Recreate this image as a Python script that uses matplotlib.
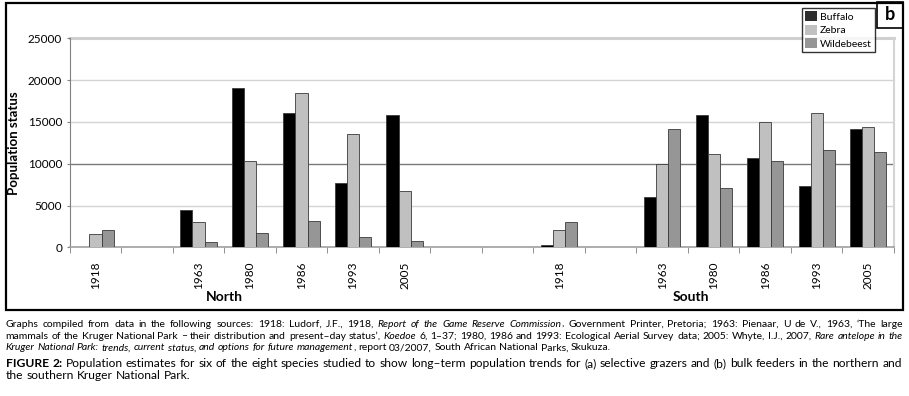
import matplotlib
matplotlib.use("Agg")
import matplotlib.pyplot as plt
import numpy as np
from matplotlib.patches import Rectangle

nan = np.nan

years = ['1918', '', '1963', '1980', '1986', '1993', '2005', '', '',
         '1918', '', '1963', '1980', '1986', '1993', '2005']
buffalo = [nan, nan, 4500, 19100, 16050, 7700, 15800, nan, nan,
           300, nan, 6050, 15800, 10650, 7350, 14150]
zebra = [1550, nan, 3050, 10300, 18400, 13500, 6750, nan, nan,
         2050, nan, 10000, 11200, 14950, 16050, 14400]
wildebeest = [2050, nan, 650, 1750, 3150, 1250, 750, nan, nan,
              3050, nan, 14150, 7100, 10300, 11650, 11350]
series = ['Buffalo', 'Zebra', 'Wildebeest']
colors = ['#000000', '#c0c0c0', '#969696']
regions = [('North', 2.5), ('South', 11.55)]

W, H = 909, 396
plt.rcParams['font.family'] = ['Lato', 'DejaVu Sans']
CAPTION_FONT = ['Liberation Sans Narrow', 'Lato', 'DejaVu Sans']

fig = plt.figure(figsize=(W / 100, H / 100), dpi=100)

def fx(px):
    return px / W

def fy(py):
    return 1 - py / H

ax = fig.add_axes([fx(69.7), fy(247.3), fx(894) - fx(69.7), fy(38.3) - fy(247.3)])

x = np.arange(len(years))
width = 0.235
for i, (name, vals, c) in enumerate(zip(series, [buffalo, zebra, wildebeest], colors)):
    ax.bar(x + (i - 1) * width, vals, width, color=c, edgecolor='#3a3a3a',
           linewidth=0.6, label=name, zorder=3)

ax.set_xlim(-0.5, len(years) - 0.5)
ax.set_ylim(0, 25000)
ax.set_yticks(np.arange(0, 25001, 5000))
ax.tick_params(axis='y', labelsize=8.5, length=2.5, color='#808080', pad=3)

# gridlines: light grey except the dark 10000 line
for v in [5000, 15000, 20000]:
    ax.axhline(v, color='#d4d4d4', lw=1.0, zorder=1)
ax.axhline(10000, color='#7a7a7a', lw=1.0, zorder=1)
ax.axhline(25000, color='#d0d0d0', lw=2.2, zorder=1, clip_on=False)

ax.spines['top'].set_visible(False)
ax.spines['right'].set_color('#d4d4d4')
ax.spines['right'].set_linewidth(1.5)
ax.spines['left'].set_color('#808080')
ax.spines['bottom'].set_color('#a0a0a0')
ax.spines['bottom'].set_linewidth(1.2)

ax.set_xticks(x)
ax.set_xticklabels(years, rotation=90, fontsize=8.5)
ax.set_xticks(np.arange(-0.5, len(years), 1), minor=True)
ax.tick_params(axis='x', which='major', length=0, pad=10.5)
ax.tick_params(axis='x', which='minor', length=4, color='#808080', direction='out')

ax.set_ylabel('Population status', fontsize=9.5, fontweight='bold')
ax.yaxis.set_label_coords((20 - 69.7) / (894 - 69.7), 0.5)
for name, pos in regions:
    ax.text(pos, (247.3 - 297) / (247.3 - 38.3), name, transform=ax.get_xaxis_transform(),
            ha='center', va='center', fontsize=10, fontweight='bold')

# legend
handles = [Rectangle((0, 0), 1, 1, facecolor=c, edgecolor='none') for c in ['#2e2e2e', '#c0c0c0', '#969696']]
leg = fig.legend(handles, series, loc='upper left',
                 bbox_to_anchor=(fx(802), fy(8)), fontsize=7.5, frameon=True,
                 fancybox=False, edgecolor='black', handlelength=1.1, handleheight=1.1,
                 handletextpad=0.3, labelspacing=0.3, borderpad=0.3, borderaxespad=0)
leg.get_frame().set_linewidth(1.0)

# outer frame and "b" box
fig.add_artist(Rectangle((fx(5.7), fy(309.5)), fx(902.5) - fx(5.7), fy(2.5) - fy(309.5),
                         fill=False, edgecolor='black', lw=1.6, transform=fig.transFigure))
fig.add_artist(Rectangle((fx(877), fy(27.5)), fx(902.5) - fx(877), fy(2.5) - fy(27.5),
                         fill=False, edgecolor='black', lw=1.2, transform=fig.transFigure))
fig.text(fx(889.5), fy(15), 'b', ha='center', va='center', fontsize=13, fontweight='bold')

# caption
caption_small = [
    [("Graphs compiled from data in the following sources: 1918: Ludorf, J.F., 1918,", 'normal'),
     ("Report of the Game Reserve Commission", 'italic'),
     (", Government Printer, Pretoria; 1963: Pienaar, U de V., 1963, \u2018The large", 'normal')],
    [("mammals of the Kruger National Park \u2013 their distribution and present\u2013day status\u2019,", 'normal'),
     ("Koedoe", 'italic'),
     ("6, 1\u201337; 1980, 1986 and 1993: Ecological Aerial Survey data; 2005: Whyte, I.J., 2007,", 'normal'),
     ("Rare antelope in the", 'italic')],
    [("Kruger National Park: trends, current status, and options for future management", 'italic'),
     (", report 03/2007, South African National Parks, Skukuza.", 'normal')],
]
caption_big = [
    [("FIGURE 2:", 'bold'),
     ("Population estimates for six of the eight species studied to show long\u2013term population trends for (a) selective grazers and (b) bulk feeders in the northern and", 'normal')],
    [("the southern Kruger National Park.", 'normal')],
]

renderer = fig.canvas.get_renderer()

def words_of(line):
    out = []
    for k, (txt, style) in enumerate(line):
        for j, w in enumerate(txt.split(' ')):
            if w == '':
                continue
            glue = j == 0 and k > 0 and txt[0] in ',.;'
            out.append((w, style, glue))
    return out

def font_kw(style):
    kw = {'fontweight': 'bold'} if style == 'bold' else {'style': style}
    kw['family'] = CAPTION_FONT
    return kw

def measure(word, style, size):
    t = fig.text(0, 0, word, fontsize=size, **font_kw(style))
    w = t.get_window_extent(renderer).width
    t.remove()
    return w

def layout(line, size):
    ws = words_of(line)
    widths = [measure(w, s, size) for w, s, g in ws]
    space = measure('a a', 'normal', size) - measure('aa', 'normal', size)
    ngaps = sum(1 for w, s, g in ws[1:] if not g)
    return ws, widths, space, ngaps

def draw_para(lines, y0, dy, x0, target, justify):
    # one font size per paragraph, chosen so the longest line fills the width
    base = 8.0
    nat = []
    for line in lines:
        ws, widths, space, ngaps = layout(line, base)
        nat.append(sum(widths) + ngaps * space)
    size = base * target / max(nat)
    for li, line in enumerate(lines):
        ws, widths, space, ngaps = layout(line, size)
        gap = space
        if justify[li] and ngaps:
            gap = (target - sum(widths)) / ngaps
        xp = x0
        for (w, s, g), wd in zip(ws, widths):
            if g:
                xp -= gap
            fig.text(fx(xp), fy(y0 + li * dy), w, fontsize=size, va='center', ha='left',
                     **font_kw(s))
            xp += wd + gap

draw_para(caption_small, 324.5, 11.6, 5.7, 897, [True, True, False])
draw_para(caption_big, 363.5, 12.4, 5.7, 896, [True, False])

fig.savefig('out.png', dpi=100)
